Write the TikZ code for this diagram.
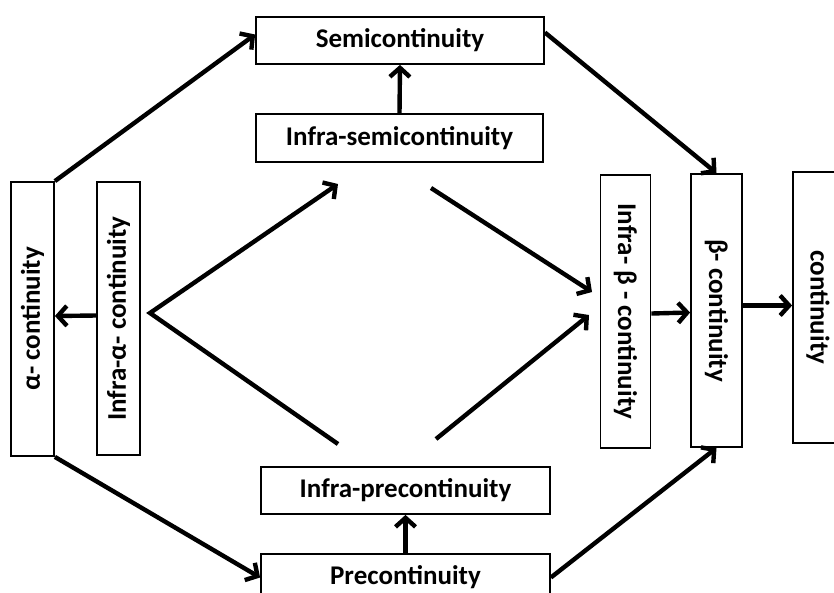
\documentclass[tikz,border=0pt]{standalone}
\usepackage{fontspec}
\setmainfont{Carlito}
\usepackage{graphicx}
\usetikzlibrary{arrows.meta}
\def\upbox#1{\rotatebox{90}{#1}}
\def\downbox#1{\rotatebox{-90}{#1}}

\begin{document}
\begin{tikzpicture}[x=1pt, y=-1pt,
    box/.style={draw, line width=1.8pt, inner sep=0pt, font=\fontsize{27}{31}\selectfont\bfseries},
    arr/.style={line width=4.4pt, line join=miter, -{Straight Barb[length=9pt,width=20pt]}},
  ]
			%%%%% START %%%%%
			
			\clip (0, 0) rectangle (834, 592);
			
			\node[box, minimum width=43pt, minimum height=274pt] (alpha) at (32.5, 319) {\upbox{α- continuity}};
			\node[box, minimum width=43pt, minimum height=273pt] (infraalpha) at (118.5, 318.5) {\upbox{Infra-α- continuity}};
			
			\node[box, minimum width=288pt, minimum height=47pt] (semi) at (400, 40.5) {Semicontinuity};
			\node[box, minimum width=287pt, minimum height=48pt] (infrasemi) at (399.5, 138) {Infra-semicontinuity};
			\node[box, minimum width=289pt, minimum height=47pt] (infrapre) at (405.5, 490.5) {Infra-precontinuity};
			\node[box, minimum width=289pt, minimum height=47pt] (pre) at (405.5, 577.5) {Precontinuity};
			
			\node[box, minimum width=50pt, minimum height=273pt] (infrabeta) at (625.5, 311.5) {\downbox{Infra- β - continuity}};
			\node[box, minimum width=51pt, minimum height=273pt] (beta) at (716.5, 310.5) {\downbox{β- continuity}};
			\node[box, minimum width=50pt, minimum height=271pt] (cont) at (818, 307.5) {\downbox{continuity}};
			
			\coordinate (fork) at (150, 313);
			\coordinate (semiend) at (338, 184);
			\coordinate (preend) at (338, 444);
			\coordinate (semistart) at (431, 188);
			\coordinate (semitip) at (592, 292);
			\coordinate (prestart) at (436, 439);
			\coordinate (pretip) at (589, 315);
			
			\draw[arr] (alpha.north east) -- ([yshift=6pt]semi.west);
			\draw[arr] ([yshift=8pt]semi.east) -- (beta.north);
			\draw[arr] (alpha.south east) -- (pre.west);
			\draw[arr] (pre.east) -- (beta.south);
			
			\draw[arr] (infrasemi.north) -- (semi.south);
			\draw[arr] (pre.north) -- (infrapre.south);
			\draw[arr] ([yshift=3pt]infraalpha.west) -- ([yshift=3pt]alpha.east);
			
			\draw[arr, {Straight Barb[length=9pt,width=20pt]}-] (semiend) -- (fork) -- (preend);
			\draw[arr] (semistart) -- (semitip);
			\draw[arr] (prestart) -- (pretip);
			
			\draw[arr] ([yshift=-2pt]infrabeta.east) -- ([yshift=-2pt]beta.west);
			\draw[arr] ([yshift=5pt]beta.east) -- ([yshift=5pt]beta.east -| cont.west);
			
			%%%%% END %%%%%
\end{tikzpicture}
\end{document}
